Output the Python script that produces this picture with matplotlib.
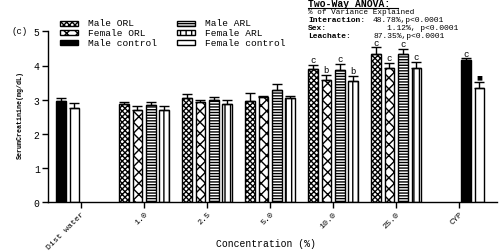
import numpy as np
import matplotlib
matplotlib.use("Agg")
import matplotlib.pyplot as plt
from matplotlib.patches import Rectangle

nan = np.nan
categories = ["Dist water", "1.0", "2.5", "5.0", "10.0", "25.0", "CYP"]

male_orl = [nan, 2.88, 3.06, 2.97, 3.91, 4.35, nan]
male_orl_err = [nan, 0.06, 0.12, 0.22, 0.11, 0.18, nan]
female_orl = [nan, 2.71, 2.93, 3.08, 3.58, 3.92, nan]
female_orl_err = [nan, 0.11, 0.05, 0.03, 0.14, 0.15, nan]
male_arl = [nan, 2.85, 3.00, 3.28, 3.87, 4.33, nan]
male_arl_err = [nan, 0.09, 0.07, 0.17, 0.17, 0.15, nan]
female_arl = [nan, 2.71, 2.88, 3.04, 3.55, 3.92, nan]
female_arl_err = [nan, 0.11, 0.10, 0.06, 0.15, 0.18, nan]
male_control = [2.95, nan, nan, nan, nan, nan, 4.15]
male_control_err = [0.09, nan, nan, nan, nan, nan, 0.06]
female_control = [2.75, nan, nan, nan, nan, nan, 3.35]
female_control_err = [0.15, nan, nan, nan, nan, nan, 0.18]

male_orl_sig = ["", "", "", "", "c", "c", ""]
female_orl_sig = ["", "", "", "", "b", "c", ""]
male_arl_sig = ["", "", "", "", "c", "c", ""]
female_arl_sig = ["", "", "", "", "b", "c", ""]
male_control_sig = ["", "", "", "", "", "", "c"]
female_control_sig = ["", "", "", "", "", "", "\u25a0"]

plt.rcParams['font.family'] = ['Liberation Mono', 'DejaVu Sans']
plt.rcParams['hatch.linewidth'] = 1.0

W, H = 502, 253
fig = plt.figure(figsize=(W/100, H/100), dpi=100)
ax = fig.add_axes([48/W, 1 - 203.3/H, (497-48)/W, (203.3-32.3)/H])

x = np.arange(len(categories))
slot = 13.4/63
bw = 9.5/63

HATCH = {'Male ORL': 'xxxxxx', 'Female ORL': 'xxx', 'Male ARL': '------',
         'Female ARL': '|||', 'Male control': '', 'Female control': ''}
FACE = {'Male ORL': 'white', 'Female ORL': 'white', 'Male ARL': 'white',
        'Female ARL': 'white', 'Male control': 'black', 'Female control': 'white'}

def draw(vals, errs, sigs, pos, lab):
    vals = np.array(vals, float); errs = np.array(errs, float)
    ax.bar(pos, vals, bw, color=FACE[lab], edgecolor='black', hatch=HATCH[lab],
           linewidth=1.0, zorder=2)
    m = ~np.isnan(vals)
    ax.errorbar(pos[m], vals[m], yerr=[np.zeros(m.sum()), errs[m]], fmt='none',
                ecolor='black', elinewidth=1.0, capsize=3.5, capthick=1.0, zorder=3)
    for p, v, e, s in zip(pos, vals, errs, sigs):
        if s:
            if s == "\u25a0":
                ax.text(p, v + e + 0.06, s, ha='center', va='bottom', fontsize=4.5,
                        family='DejaVu Sans')
            else:
                ax.text(p, v + e + 0.02, s, ha='center', va='bottom', fontsize=6.5)

for k, (vals, errs, sigs, lab) in enumerate([
        (male_orl, male_orl_err, male_orl_sig, 'Male ORL'),
        (female_orl, female_orl_err, female_orl_sig, 'Female ORL'),
        (male_arl, male_arl_err, male_arl_sig, 'Male ARL'),
        (female_arl, female_arl_err, female_arl_sig, 'Female ARL')]):
    draw(vals, errs, sigs, x + (k - 1.5) * slot, lab)

ctrl_slot = np.array([0, 0, 0, 0, 0, 0, 2])
for k, (vals, errs, sigs, lab) in enumerate([
        (male_control, male_control_err, male_control_sig, 'Male control'),
        (female_control, female_control_err, female_control_sig, 'Female control')]):
    draw(vals, errs, sigs, x + (ctrl_slot + k - 1.5) * slot, lab)

ax.set_ylim(0, 5)
ax.set_xlim(-0.524, 6.6)
ax.set_yticks([0, 1, 2, 3, 4, 5])
ax.set_xticks(x)
ax.set_xticklabels(categories, rotation=45, ha='right', rotation_mode='anchor', fontsize=6)
ax.tick_params(axis='y', labelsize=7, length=4, width=1, pad=2)
ax.tick_params(axis='x', length=4, width=1, pad=1.5)
ax.spines['top'].set_visible(False)
ax.spines['right'].set_visible(False)
ax.spines['left'].set_linewidth(1)
ax.spines['bottom'].set_linewidth(1)

fig.text(265.5/W, 1 - 244/H, 'Concentration (%)', fontsize=7, ha='center', va='center')
fig.text(20/W, 1 - 115/H, 'SerumCreatinine(mg/dL)', fontsize=4.8, fontweight='bold',
         rotation=90, ha='center', va='center')

# legend drawn manually
leg = [('Male ORL', 60, 24), ('Female ORL', 60, 33.5), ('Male control', 60, 43.5),
       ('Male ARL', 177, 24), ('Female ARL', 177, 33.5), ('Female control', 177, 43.5)]
for lab, px, py in leg:
    fig.add_artist(Rectangle((px/W, 1 - (py + 2.5)/H), 18/W, 5/H, transform=fig.transFigure,
                             facecolor=FACE[lab], edgecolor='black', hatch=HATCH[lab], lw=1.0))
    fig.text((px + 28)/W, 1 - py/H, lab, fontsize=6.8, va='center')

fig.text(12/W, 1 - 32/H, '(c)', fontsize=6.5, va='center')

fig.text(308/W, 1 - 4/H, 'Two-Way ANOVA:', fontsize=7, fontweight='bold', va='center')
fig.add_artist(plt.Line2D([308/W, 398/W], [1 - 8.5/H, 1 - 8.5/H], color='black', lw=0.8))
fig.text(308/W, 1 - 13/H, '% of Variance Explained', fontsize=5.5, va='center')
fig.text(308/W, 1 - 20.8/H, 'Interaction:', fontsize=5.8, fontweight='bold', va='center')
fig.text(373/W, 1 - 20.8/H, '48.78%,p<0.0001', fontsize=5.8, va='center')
fig.text(308/W, 1 - 28.4/H, 'Sex:', fontsize=5.8, fontweight='bold', va='center')
fig.text(387/W, 1 - 28.4/H, '1.12%, p<0.0001', fontsize=5.8, va='center')
fig.text(308/W, 1 - 36/H, 'Leachate:', fontsize=5.8, fontweight='bold', va='center')
fig.text(374/W, 1 - 36/H, '87.35%,p<0.0001', fontsize=5.8, va='center')

fig.savefig('out.png', dpi=100)
